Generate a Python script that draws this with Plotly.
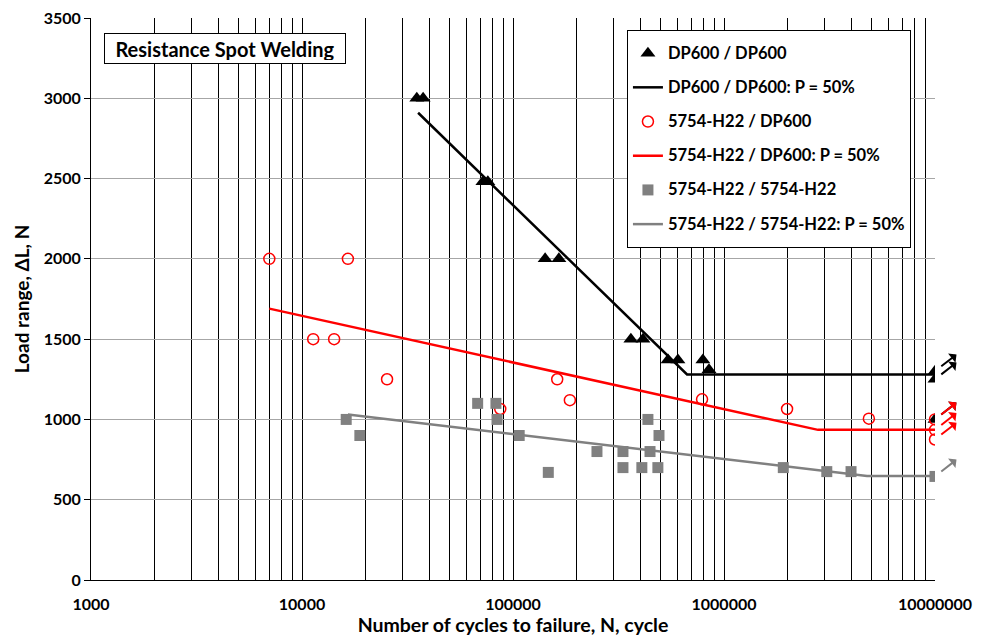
import numpy as np
import plotly.graph_objects as go

# ---------------- data ----------------
N_dp = [35000, 37500, 72000, 76000, 142000, 165000, 362000, 413000, 543000, 605000,
        794000, 849000, 1e7, 1e7, 1e7]
L_dp = [3000, 3000, 2480, 2480, 2000, 2000, 1500, 1500, 1370, 1370,
        1370, 1310, 1300, 1250, 1000]

N_rd = [7000, 16500, 11300, 14200, 25300, 162000, 186000, 87000, 787000, 1990000,
        4860000, 1e7, 1e7, 1e7]
L_rd = [2000, 2000, 1500, 1500, 1250, 1250, 1120, 1065, 1125, 1065,
        1005, 1000, 935, 875]

N_gr = [16200, 18800, 68000, 83000, 84000, 107000, 147000, 250000, 332000, 332000,
        408000, 436000, 446000, 492000, 486000, 1910000, 3070000, 4000000, 1e7]
L_gr = [1000, 900, 1100, 1100, 1000, 900, 670, 800, 800, 700,
        700, 1000, 800, 900, 700, 700, 675, 675, 645]

N_dp_fit = [35500, 668000, 1e7]
L_dp_fit = [2910, 1280, 1280]
N_rd_fit = [7000, 2790000, 1e7]
L_rd_fit = [1690, 935, 935]
N_gr_fit = [16500, 4760000, 1e7]
L_gr_fit = [1030, 648, 648]

RUNOUT = 1e7
x_tick_labels = ["1000", "10000", "100000", "1000000", "10000000"]
y_ticks = [0, 500, 1000, 1500, 2000, 2500, 3000, 3500]

names = ["DP600 / DP600", "DP600 / DP600: P = 50%",
         "5754-H22 / DP600", "5754-H22 / DP600: P = 50%",
         "5754-H22 / 5754-H22", "5754-H22 / 5754-H22: P = 50%"]

FONT = "Lato"
BLACK = "#000000"
RED = "#ff0000"
GRAY = "#808080"


def leg(name):
    return (f'<span style="font-size:16.5px;baseline-shift:4px">'
            f'<b>{name}</b></span>')


fig = go.Figure()

fig.add_trace(go.Scatter(x=N_dp, y=L_dp, mode="markers", name=leg(names[0]),
                         marker=dict(symbol="triangle-up", size=13, color=BLACK)))
fig.add_trace(go.Scatter(x=N_dp_fit, y=L_dp_fit, mode="lines", name=leg(names[1]),
                         line=dict(color=BLACK, width=2.5)))
fig.add_trace(go.Scatter(x=N_rd, y=L_rd, mode="markers", name=leg(names[2]),
                         marker=dict(symbol="circle-open", size=11, color=RED,
                                     line=dict(width=1.5, color=RED))))
fig.add_trace(go.Scatter(x=N_rd_fit, y=L_rd_fit, mode="lines", name=leg(names[3]),
                         line=dict(color=RED, width=2.5)))
fig.add_trace(go.Scatter(x=N_gr, y=L_gr, mode="markers", name=leg(names[4]),
                         marker=dict(symbol="square", size=11, color=GRAY)))
fig.add_trace(go.Scatter(x=N_gr_fit, y=L_gr_fit, mode="lines", name=leg(names[5]),
                         line=dict(color=GRAY, width=2.5)))

# run-out arrows
for Ns, Ls, col in [(N_dp, L_dp, BLACK), (N_rd, L_rd, RED), (N_gr, L_gr, GRAY)]:
    for n, l in zip(Ns, Ls):
        if n >= RUNOUT:
            fig.add_annotation(x=np.log10(n), y=l, xref="x", yref="y", text="",
                               showarrow=True, axref="pixel", ayref="pixel",
                               ax=23, ay=-18, arrowside="start", arrowhead=2,
                               arrowsize=1, arrowwidth=2, arrowcolor=col, standoff=8)

# title box
fig.add_annotation(xref="paper", yref="paper", x=0.0154, y=0.9733,
                   xanchor="left", yanchor="top", text="<b>Resistance Spot Welding</b>",
                   showarrow=False, font=dict(family=FONT, size=20, color=BLACK),
                   bgcolor="white", bordercolor=BLACK, borderwidth=1, borderpad=3,
                   width=234, height=23)

tickvals = []
ticktext = []
for d in range(3, 8):
    for m in range(1, 10):
        if d == 7 and m > 1:
            break
        tickvals.append(m * 10 ** d)
        ticktext.append(f"<b>{x_tick_labels[d - 3]}</b>" if m == 1 else "")

fig.update_xaxes(type="log", range=[3, 7], tickvals=tickvals, ticktext=ticktext,
                 showgrid=True, gridcolor=BLACK, gridwidth=1, automargin=False,
                 showline=True, linecolor=BLACK, linewidth=1, zeroline=False,
                 ticks="", ticklabelstandoff=10, ticklabeloverflow="allow",
                 tickfont=dict(family=FONT, size=16, color=BLACK),
                 title=dict(text="<b>Number of cycles to failure, N, cycle</b>",
                            font=dict(family=FONT, size=19.5, color=BLACK), standoff=9))
fig.update_yaxes(range=[0, 3500], tickvals=y_ticks,
                 ticktext=[f"<b>{v}</b>" for v in y_ticks],
                 showgrid=True, gridcolor="#a6a6a6", gridwidth=1, automargin=False,
                 showline=True, linecolor=BLACK, linewidth=1, zeroline=False,
                 ticks="outside", ticklen=6, tickcolor=BLACK, ticklabeloverflow="allow",
                 tickfont=dict(family=FONT, size=16, color=BLACK),
                 title=dict(text="<b>Load range, \u0394L, N</b>",
                            font=dict(family=FONT, size=19, color=BLACK), standoff=9))

fig.update_layout(
    width=976, height=628,
    margin=dict(l=83, r=49, t=10, b=56),
    paper_bgcolor="white", plot_bgcolor="white",
    font=dict(family=FONT, color=BLACK),
    legend=dict(x=0.635, y=0.9786, xanchor="left", yanchor="top",
                bgcolor="white", bordercolor=BLACK, borderwidth=1,
                font=dict(family=FONT, size=24, color=BLACK),
                traceorder="normal", itemwidth=30),
    showlegend=True,
)

fig.write_html("out.html")
